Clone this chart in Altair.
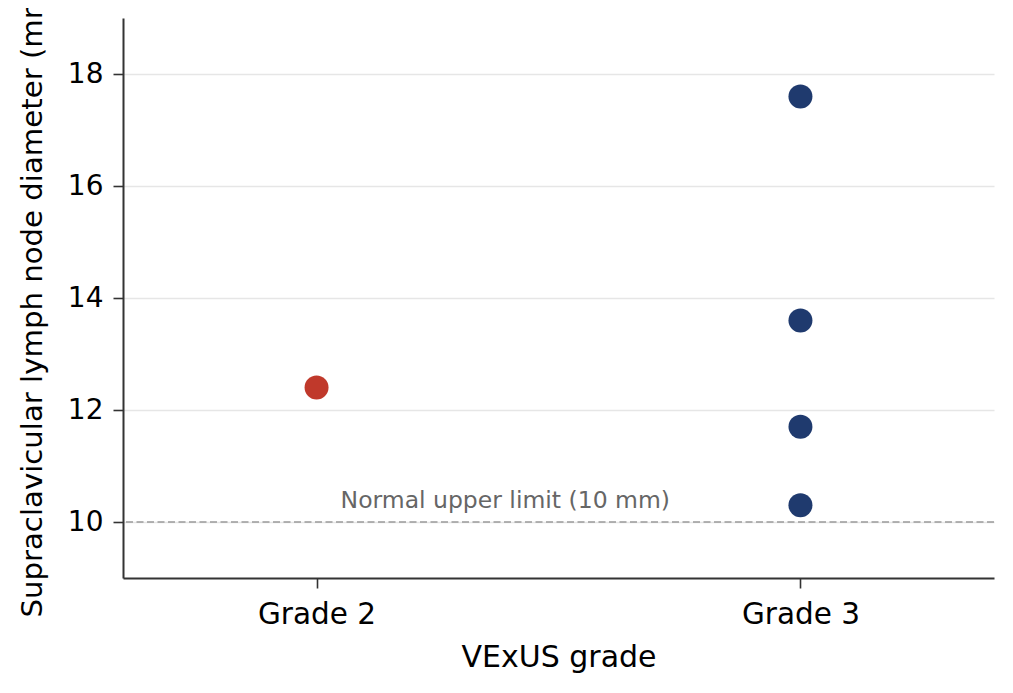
import altair as alt
import pandas as pd

# Data
grades = ["Grade 2", "Grade 3", "Grade 3", "Grade 3", "Grade 3"]
diameters = [12.4, 17.6, 13.6, 11.7, 10.3]
grade_order = ["Grade 2", "Grade 3"]
grade_colors = ["#c0392b", "#1f3a6e"]
y_ticks = [10, 12, 14, 16, 18]
limit_value = [10]
limit_label = ["Normal upper limit (10 mm)"]

df = pd.DataFrame({"grade": grades, "diameter": diameters})
limit_df = pd.DataFrame({"limit": limit_value})
label_df = pd.DataFrame({"grade": ["Grade 2"], "limit": limit_value, "label": limit_label})

FONT = "DejaVu Sans"

x_enc = alt.X(
    "grade:N",
    sort=grade_order,
    scale=alt.Scale(type="point", padding=0.4, domain=grade_order),
    axis=alt.Axis(
        title="VExUS grade",
        labelAngle=0,
        grid=False,
        tickSize=10,
        labelPadding=12,
        titlePadding=14,
        labelFontSize=29.5,
        titleFontSize=30,
    ),
)
y_scale = alt.Scale(domain=[9, 19], nice=False, zero=False)

points = alt.Chart(df).mark_circle(size=575, opacity=1).encode(
    x=x_enc,
    y=alt.Y(
        "diameter:Q",
        scale=y_scale,
        axis=alt.Axis(
            title="Supraclavicular lymph node diameter (mm)",
            values=y_ticks,
            grid=True,
            tickSize=10,
            labelPadding=10,
            titlePadding=20,
            labelFontSize=28,
            titleFontSize=29.2,
        ),
    ),
    color=alt.Color(
        "grade:N",
        scale=alt.Scale(domain=grade_order, range=grade_colors),
        legend=None,
    ),
)

rule = alt.Chart(limit_df).mark_rule(
    color="#9a9a9a", strokeDash=[7, 3.5], strokeWidth=1.3
).encode(y=alt.Y("limit:Q", scale=y_scale))

label = alt.Chart(label_df).mark_text(
    align="left", baseline="alphabetic", dx=24, dy=-14,
    fontSize=23.5, color="#666666", font=FONT
).encode(
    x=alt.X("grade:N", sort=grade_order),
    y=alt.Y("limit:Q", scale=y_scale),
    text="label:N",
)

chart = alt.layer(rule, points, label).properties(
    width=871,
    height=560,
    autosize=alt.AutoSizeParams(type="none"),
    padding={"left": 115, "top": 10, "right": 11, "bottom": 100},
).configure_view(
    stroke=None
).configure_axis(
    labelFont=FONT,
    titleFont=FONT,
    titleFontWeight="normal",
    labelColor="#000000",
    titleColor="#000000",
    domainColor="#333333",
    domainWidth=2,
    tickColor="#333333",
    tickWidth=1.6,
    gridColor="#e6e6e6",
    gridWidth=1.5,
)

chart.save("out.html", embed_options={"renderer": "svg", "actions": False})
